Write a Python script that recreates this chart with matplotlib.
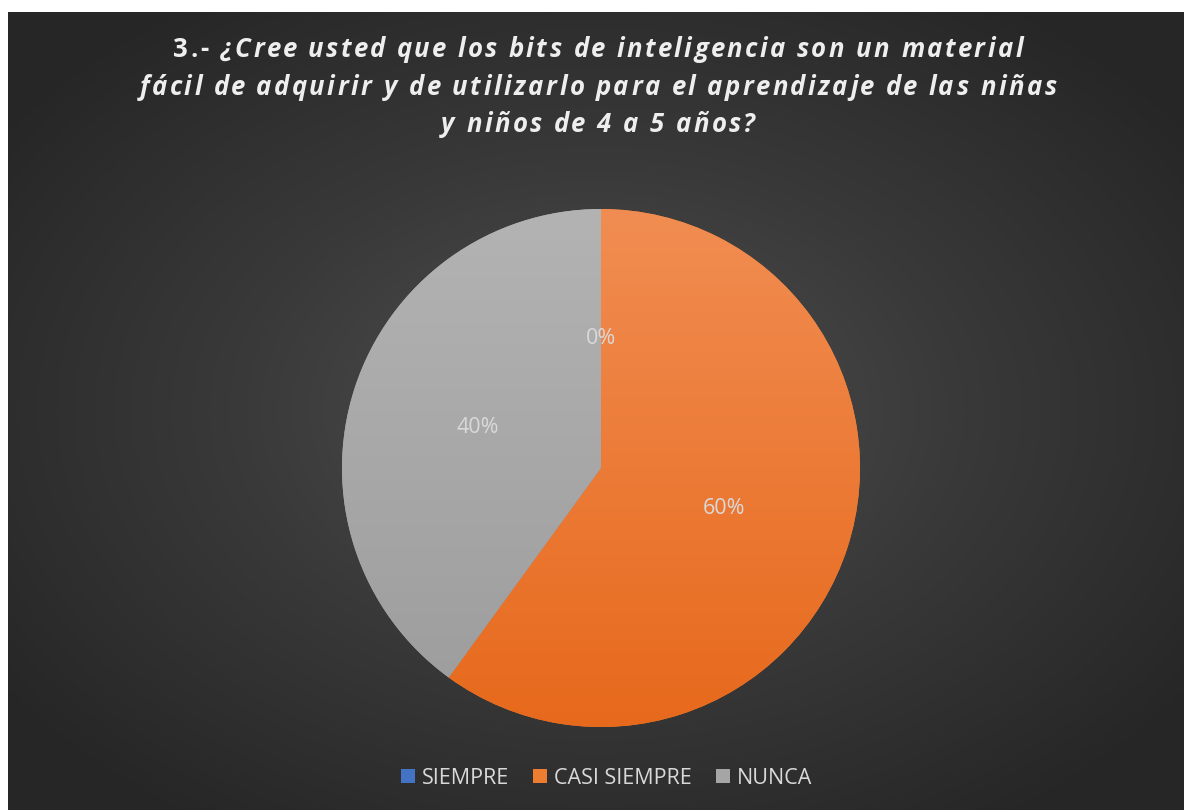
import matplotlib
matplotlib.use("Agg")
import matplotlib.pyplot as plt
import numpy as np
from matplotlib.colors import LinearSegmentedColormap
from matplotlib.lines import Line2D

# datos
categories = ["SIEMPRE", "CASI SIEMPRE", "NUNCA"]
values = [0, 60, 40]
colors = ["#4472c4", "#ed7d31", "#a5a5a5"]
tops = ["#5b86d4", "#f18d52", "#b3b3b3"]
bottoms = ["#3a64b2", "#e7691c", "#9c9c9c"]
title_prefix = "3.- "
title_lines = ["¿Cree usted que los bits de inteligencia son un material",
               "fácil de adquirir y de utilizarlo para el aprendizaje de las niñas",
               "y niños de 4 a 5 años?"]

W, H = 1184, 810
fig = plt.figure(figsize=(W / 100, H / 100), dpi=100)
fig.patch.set_facecolor("white")
ax = fig.add_axes([0, 0, 1, 1])
ax.set_xlim(0, W)
ax.set_ylim(0, H)
ax.axis("off")

# fondo con degradado radial
yy, xx = np.mgrid[0:H - 12, 0:W - 8]
cx, cy = (W - 8) / 2, (H - 12) / 2
r = np.sqrt(((xx - cx) / (W * 0.62)) ** 2 + ((yy - cy) / (H * 0.62)) ** 2)
r = np.clip(r, 0, 1)
bg_cmap = LinearSegmentedColormap.from_list("bg", ["#505050", "#393939", "#262626"])
ax.imshow(r, cmap=bg_cmap, extent=(8, W, 0, H - 12), origin="lower", zorder=0, aspect="auto")

# pastel
center = (601, H - 468)
radius = 259
wedges, texts, autotexts = ax.pie(values, colors=colors, startangle=90, counterclock=False,
                                  center=center, radius=radius, autopct="%1.0f%%", pctdistance=0.5,
                                  wedgeprops=dict(linewidth=0, zorder=2),
                                  textprops=dict(color="#d9d9d9", fontsize=15.5, family="Open Sans"))
ax.set_xlim(0, W)
ax.set_ylim(0, H)
ax.set_aspect("auto")

grad = np.linspace(0, 1, 256).reshape(-1, 1)
for w, top, bot in zip(wedges, tops, bottoms):
    cm = LinearSegmentedColormap.from_list("g", [bot, top])
    im = ax.imshow(grad, cmap=cm, origin="lower", aspect="auto", zorder=3,
                   extent=(center[0] - radius, center[0] + radius, center[1] - radius, center[1] + radius))
    im.set_clip_path(w)
for t in autotexts:
    t.set_zorder(5)

# título con espaciado entre letras
renderer = fig.canvas.get_renderer()
tkw = dict(color="#eeeeee", fontsize=18.5, fontweight="bold", family="Open Sans", zorder=5)
SPACING = 2.6


def char_width(c, style):
    t1 = ax.text(0, 0, "x" + c + "x", fontstyle=style, **tkw)
    t2 = ax.text(0, 0, "xx", fontstyle=style, **tkw)
    w = t1.get_window_extent(renderer).width - t2.get_window_extent(renderer).width
    t1.remove()
    t2.remove()
    return w


def draw_line(chars, y):
    widths = [char_width(c, s) for c, s in chars]
    total = sum(widths) + SPACING * (len(chars) - 1)
    x = 598 - total / 2
    for (c, s), w in zip(chars, widths):
        if c != " ":
            ax.text(x, y, c, fontstyle=s, ha="left", va="baseline", **tkw)
        x += w + SPACING


line_y = [57, 95, 132]
for i, line in enumerate(title_lines):
    chars = [(c, "italic") for c in line]
    if i == 0:
        chars = [(c, "normal") for c in title_prefix] + chars
    draw_line(chars, H - line_y[i])

# leyenda
handles = [Line2D([], [], marker="s", linestyle="none", markersize=10, markerfacecolor=c,
                  markeredgewidth=0) for c in colors]
leg = ax.legend(handles, categories, loc="center", bbox_to_anchor=(606 / W, (H - 778) / H),
                ncol=3, frameon=False, handletextpad=0.25, columnspacing=1.05, handlelength=0.8,
                prop=dict(family="Open Sans", size=15.5))
for t in leg.get_texts():
    t.set_color("#d9d9d9")

fig.savefig("out.png", dpi=100)
